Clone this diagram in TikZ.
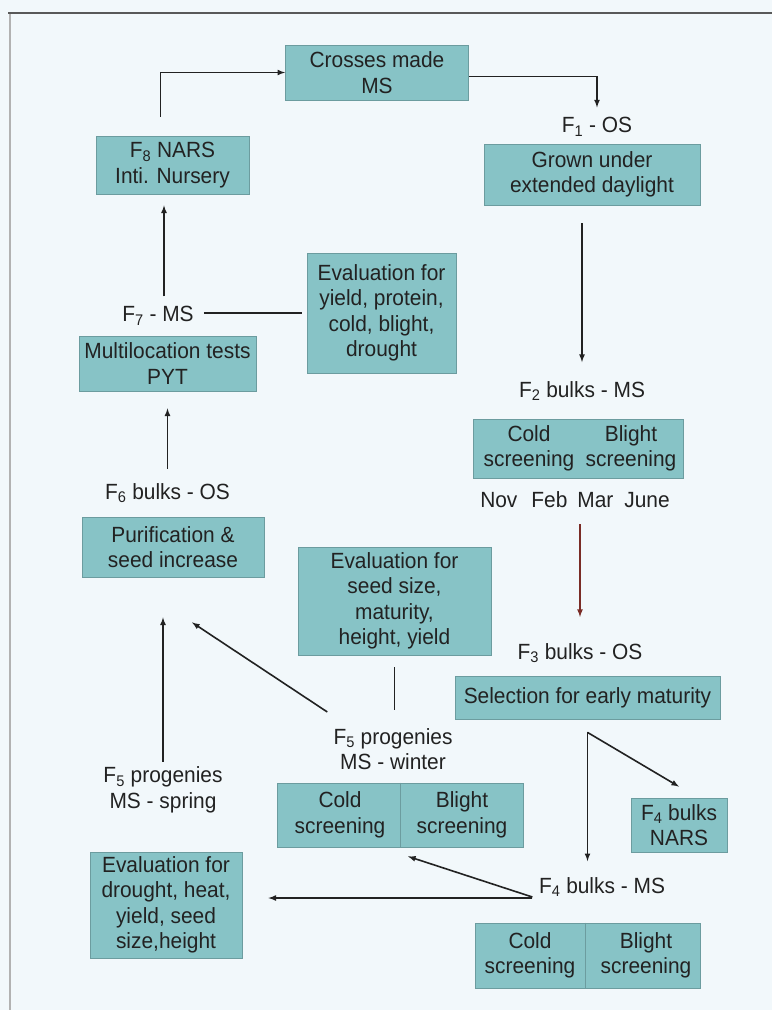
\documentclass[tikz,border=0pt]{standalone}
\usepackage{fontspec}
\setmainfont{Liberation Sans}[FakeStretch=0.95]
\usetikzlibrary{positioning}
\definecolor{tealfill}{HTML}{87C3C6}
\definecolor{boxedge}{HTML}{6C9C9F}
\definecolor{pagebg}{HTML}{F2F8FB}
\definecolor{inkgray}{HTML}{222222}
\definecolor{arrowred}{HTML}{7A2C26}
\tikzstyle{stagebox} = [rectangle,
draw=boxedge,
line width=0.8pt,
fill=tealfill,
text=inkgray,
align=center,
inner sep=0pt]
\tikzstyle{stagelabel} = [align=center,
text=inkgray,
inner sep=2pt]
\tikzstyle{screentext} = [align=center,
text=inkgray,
inner sep=0pt]
\tikzstyle{arrow} = [line width=1.6pt,draw=inkgray,->,>=latex]
\tikzstyle{plainline} = [line width=1.6pt,draw=inkgray]
\tikzstyle{divider} = [line width=0.8pt,draw=boxedge]

\begin{document}
\begin{tikzpicture}[x=1pt,y=-1pt,node distance=30pt,
every node/.style={font=\fontsize{22}{25.5}\selectfont}]
\useasboundingbox (0,0) rectangle (772,1010);
\fill [pagebg] (0,0) rectangle (772,1010);
\draw [line width=2pt, draw=gray!60] (10,1010) -- (10,13);
\draw [line width=2pt, draw=gray!70!black] (8,13) -- (772,13);

% top row
\node (cross) [stagebox, minimum width=183pt, minimum height=55pt] at (377,72.5) {Crosses made\\MS};

\node (f8) [stagebox, minimum width=153pt, minimum height=58pt, below of=cross, xshift=-204.5pt, yshift=-62.5pt] {F\textsubscript{8} NARS\\Inti. Nursery};

\node (f1) [stagelabel, right of=cross, xshift=190pt, yshift=-54.5pt] {F\textsubscript{1} - OS};

\node (grown) [stagebox, minimum width=216pt, minimum height=61pt, below of=f1, xshift=-5pt, yshift=-17.5pt] {Grown under\\extended daylight};

% left column
\node (f7) [stagelabel, below of=f8, xshift=-14.5pt, yshift=-121pt] {F\textsubscript{7} - MS};

\node (multi) [stagebox, minimum width=177pt, minimum height=55pt, below of=f7, xshift=9.5pt, yshift=-17.5pt] {Multilocation tests\\PYT};

\node (f6) [stagelabel, below of=multi, xshift=0pt, yshift=-99.5pt] {F\textsubscript{6} bulks - OS};

\node (puri) [stagebox, minimum width=182pt, minimum height=60pt, below of=f6, xshift=5.5pt, yshift=-24pt] {Purification \&\\seed increase};

\node (f5s) [stagelabel, below of=puri, xshift=-10pt, yshift=-213pt] {F\textsubscript{5} progenies\\MS - spring};

\node (evalC) [stagebox, minimum width=152pt, minimum height=106pt, below of=f5s, xshift=3pt, yshift=-85pt] {Evaluation for\\drought, heat,\\yield, seed\\size,height};

% middle column
\node (evalA) [stagebox, minimum width=149pt, minimum height=120pt, right of=f7, xshift=193.5pt, yshift=3pt] {Evaluation for\\yield, protein,\\cold, blight,\\drought};

\node (evalB) [stagebox, minimum width=193pt, minimum height=108pt, below of=evalA, xshift=13pt, yshift=-258pt] {Evaluation for\\seed size,\\maturity,\\height, yield};

\node (f5w) [stagelabel, below of=evalB, xshift=-1.5pt, yshift=-118pt] {F\textsubscript{5} progenies\\MS - winter};

\node (wbox) [stagebox, minimum width=246pt, minimum height=64pt, below of=f5w, xshift=7pt, yshift=-36pt] {};
\node (wcold) [screentext] at ([xshift=-60pt]wbox.center) {Cold\\screening};
\node (wblight) [screentext] at ([xshift=62pt]wbox.center) {Blight\\screening};

% right column
\node (f2) [stagelabel, below of=grown, xshift=-10pt, yshift=-186.5pt] {F\textsubscript{2} bulks - MS};

\node (f2box) [stagebox, minimum width=210pt, minimum height=59pt, below of=f2, xshift=-4pt, yshift=-27.5pt] {};
\node (f2cold) [screentext] at ([xshift=-49pt]f2box.center) {Cold\\screening};
\node (f2blight) [screentext] at ([xshift=53pt]f2box.center) {Blight\\screening};

\node (nov) [stagelabel, below of=f2box, xshift=-3pt, yshift=-21.5pt] {Nov\hspace{14pt}Feb\hspace{10pt}Mar\hspace{11pt}June};

\node (f3) [stagelabel, below of=nov, xshift=5pt, yshift=-123pt] {F\textsubscript{3} bulks - OS};

\node (sel) [stagebox, minimum width=265pt, minimum height=43pt, below of=f3, xshift=7.5pt, yshift=-14.5pt] {Selection for early maturity};

\node (nars) [stagebox, minimum width=96pt, minimum height=54pt, below of=sel, xshift=91.5pt, yshift=-97.5pt] {F\textsubscript{4} bulks\\NARS};

\node (f4) [stagelabel, below of=sel, xshift=14.5pt, yshift=-159.5pt] {F\textsubscript{4} bulks - MS};

\node (f4box) [stagebox, minimum width=225pt, minimum height=65pt, below of=f4, xshift=-14.5pt, yshift=-38.5pt] {};
\node (f4cold) [screentext] at ([xshift=-57.5pt]f4box.center) {Cold\\screening};
\node (f4blight) [screentext] at ([xshift=58.5pt]f4box.center) {Blight\\screening};

\draw [divider] (wbox.north) -- (wbox.south);
\draw [divider] ([xshift=-2pt]f4box.north) -- ([xshift=-2pt]f4box.south);

% connectors
\draw [arrow] ([xshift=-12pt,yshift=19pt]f8.north) |- (cross.west);
\draw [arrow, shorten >=8pt] ([yshift=-4pt]cross.east) -| (f1.north);
\draw [arrow, shorten <=18pt, shorten >=17pt] (grown.south -| f2.north) -- (f2.north);
\draw [arrow, shorten <=8pt, shorten >=11pt] ([xshift=6pt]f7.north) -- ([xshift=-8.5pt]f8.south);
\draw [plainline, shorten <=8pt, shorten >=5pt] ([yshift=3pt]f7.east) -- (evalA.west);
\draw [arrow, shorten <=12pt, shorten >=17pt] (f6.north) -- (f6.north |- multi.south);
\draw [arrow, shorten <=3pt, shorten >=40pt] (f5s.north) -- (f5s.north |- puri.south);
\draw [arrow] ([xshift=-4pt,yshift=14pt]f5w.north west) -- ([xshift=19pt,yshift=-45pt]puri.south);
\draw [plainline, shorten <=12pt, shorten >=16pt] (evalB.south) -- (evalB.south |- f5w.north);
\draw [arrow, draw=arrowred, shorten <=14pt, shorten >=24pt] (nov.south -| f3.north) -- (f3.north);
\draw [arrow] ([yshift=-13pt]sel.south) -- ([yshift=11pt]nars.north);
\draw [arrow, shorten <=13pt, shorten >=14pt] (sel.south) -- (sel.south |- f4.north);
\draw [arrow] ([xshift=-4.5pt,yshift=-10pt]f4.west) -- ([xshift=8pt,yshift=-9pt]wbox.south);
\draw [arrow, shorten >=26pt] ([xshift=-4.5pt,yshift=-11pt]f4.west) -- ([yshift=7pt]evalC.east);
\end{tikzpicture}
\end{document}
